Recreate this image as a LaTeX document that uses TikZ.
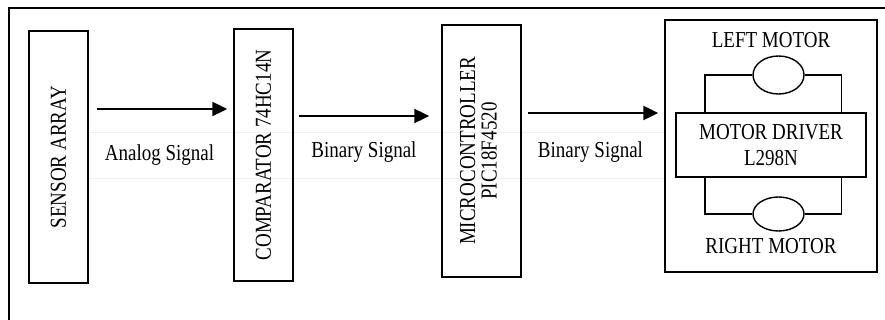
\documentclass[tikz,border=0pt]{standalone}
\usepackage{fontspec}
\setmainfont{Liberation Serif}
\usetikzlibrary{arrows.meta,shapes.geometric}
\newcommand\stretchtxt[1]{\scalebox{1}[1.2]{#1}}
\tikzset{
  blk/.style={draw, line width=1.4pt, inner sep=0pt, font=\fontsize{19}{21}\selectfont},
  lbl/.style={inner sep=0pt, anchor=base, font=\fontsize{19}{21}\selectfont},
  arr/.style={line width=2.2pt, -{Triangle[length=15pt,width=14pt]}},
  wire/.style={line width=1.4pt},
  motor/.style={draw, line width=1.4pt, ellipse, inner sep=0pt, minimum width=51pt},
  faint/.style={draw=black!6, line width=0.8pt}
}
\begin{document}
\begin{tikzpicture}[x=1pt, y=-1pt]
\useasboundingbox (0,0) rectangle (885,320);
% outer frame (cropped)
\draw[line width=1.5pt] (9,320) |- (885,8);
% faint band
\draw[faint] (88,132) -- (665,132);
\draw[faint] (88,178) -- (665,178);
% blocks
\node[blk, minimum width=59pt, minimum height=252pt] (sensor) at (58.5,157) {\rotatebox{90}{\stretchtxt{SENSOR ARRAY}}};
\node[blk, minimum width=59pt, minimum height=252pt] (comp) at (263.5,155) {\rotatebox{90}{\stretchtxt{COMPARATOR 74HC14N}}};
\node[blk, minimum width=79pt, minimum height=252pt] (mcu) at (481.5,151) {\rotatebox{90}{\stretchtxt{\fontsize{19}{17.5}\selectfont\begin{tabular}{@{}c@{}}MICROCONTROLLER\\PIC18F4520\end{tabular}}}};
\node[blk, minimum width=212pt, minimum height=252pt] (mbox) at (771,146) {};
\node[blk, minimum width=190pt, minimum height=64pt] (drv) at (771,145) {};
\node[lbl] (drvt1) at (771,140) {\stretchtxt{MOTOR DRIVER}};
\node[lbl] (drvt2) at (771,166) {\stretchtxt{L298N}};
% motors
\node[motor, minimum height=38pt] (lm) at (778.5,75) {};
\node[motor, minimum height=34pt] (rm) at (778.5,214) {};
\node[lbl] (lmt) at (771,48) {\stretchtxt{LEFT MOTOR}};
\node[lbl] (rmt) at (771,253) {\stretchtxt{RIGHT MOTOR}};
\draw[wire] (drv.north -| 705,0) |- (lm.west);
\draw[wire] (lm.east) -| (drv.north -| 841.5,0);
\draw[wire] (drv.south -| 705,0) |- (rm.west);
\draw[wire] (rm.east) -| (drv.south -| 841.5,0);
% arrows
\draw[arr, shorten <=8pt, shorten >=6pt] (sensor.east |- 0,109) -- (comp.west |- 0,109);
\draw[arr, shorten <=5pt, shorten >=12pt] (comp.east |- 0,116) -- (mcu.west |- 0,116);
\draw[arr, shorten <=6pt, shorten >=6pt] (mcu.east |- 0,113) -- (mbox.west |- 0,113);
% labels
\node[lbl] (l1) at (159.5,161) {\stretchtxt{Analog Signal}};
\node[lbl] (l2) at (364,158) {\stretchtxt{Binary Signal}};
\node[lbl] (l3) at (590.5,158) {\stretchtxt{Binary Signal}};
\end{tikzpicture}
\end{document}
